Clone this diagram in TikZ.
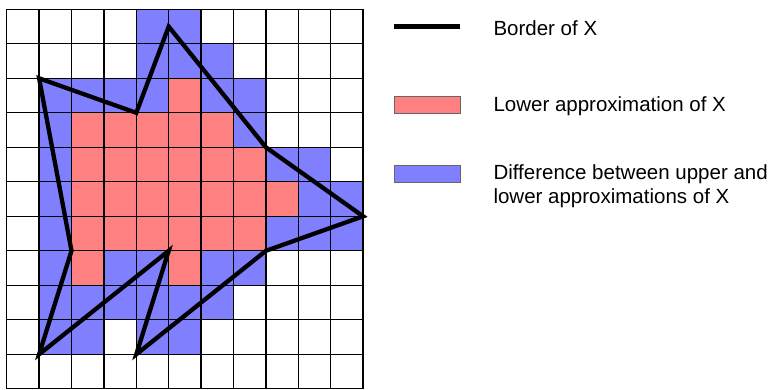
\documentclass[tikz,border=0pt]{standalone}
\usepackage{fontspec}
\setmainfont{Liberation Sans}
\definecolor{lowred}{RGB}{255,128,128}
\definecolor{diffblue}{RGB}{128,128,255}

\begin{document}
\begin{tikzpicture}[x=1pt, y=-1pt,
    gridline/.style={line width=1.3pt, black},
    border/.style={line width=4.3pt, black},
    swatch/.style={rectangle, draw=black!60, line width=0.5pt, minimum width=66pt, minimum height=17pt, inner sep=0pt},
    legend/.style={anchor=base west, inner sep=0pt, align=left, font=\fontsize{20.5}{24}\selectfont}
  ]
  \useasboundingbox (0,0) rectangle (775,389);

  % the 11x11 grid, one unit = one cell
  \begin{scope}[shift={(6.7,9.3)}, x=32.4pt, y=-34.5pt]
    % lower approximation
    \foreach \c/\r in {5/2, 2/3,3/3,4/3,5/3,6/3, 2/4,3/4,4/4,5/4,6/4,7/4,
        2/5,3/5,4/5,5/5,6/5,7/5,8/5, 2/6,3/6,4/6,5/6,6/6,7/6, 2/7,5/7}
      \fill[lowred] (\c,\r) rectangle ++(1,1);
    % upper minus lower
    \foreach \c/\r in {4/0,5/0, 4/1,5/1,6/1, 1/2,2/2,3/2,4/2,6/2,7/2, 1/3,7/3,
        1/4,8/4,9/4, 1/5,9/5,10/5, 1/6,8/6,9/6,10/6, 1/7,3/7,4/7,6/7,7/7,
        1/8,2/8,3/8,4/8,5/8,6/8, 1/9,2/9,4/9,5/9}
      \fill[diffblue] (\c,\r) rectangle ++(1,1);
    \foreach \i in {0,...,11} {
      \draw[gridline] (\i,0) -- (\i,11);
      \draw[gridline] (0,\i) -- (11,\i);
    }

    % border of X
    \coordinate (b1) at (1,2);
    \coordinate (b2) at (4,3);
    \coordinate (b3) at (5,0.5);
    \coordinate (b4) at (8,4);
    \coordinate (b5) at (11,6);
    \coordinate (b6) at (8,7);
    \coordinate (b7) at (4,10);
    \coordinate (b8) at (5,7);
    \coordinate (b9) at (1,10);
    \coordinate (b10) at (2,7);
    \draw[border] (b1) -- (b2) -- (b3) -- (b4) -- (b5) -- (b6) -- (b7) -- (b8)
      -- (b9) -- (b10) -- cycle;
  \end{scope}

  % legend
  \coordinate (keyA) at (394,26.5);
  \coordinate (keyB) at (460,26.5);
  \draw[line width=5pt] (keyA) -- (keyB);
  \node[swatch, fill=lowred] (redkey) at (427.5,104.7) {};
  \node[swatch, fill=diffblue] (bluekey) at (427.5,173.5) {};

  \node[legend] (bordertxt) at (493.3,35) {Border of X};
  \node[legend] (lowertxt) at (493.3,111.7) {Lower approximation of X};
  \node[legend] (difftxt) at (493.3,203.5) {Difference between upper and\\lower approximations of X};
\end{tikzpicture}
\end{document}
